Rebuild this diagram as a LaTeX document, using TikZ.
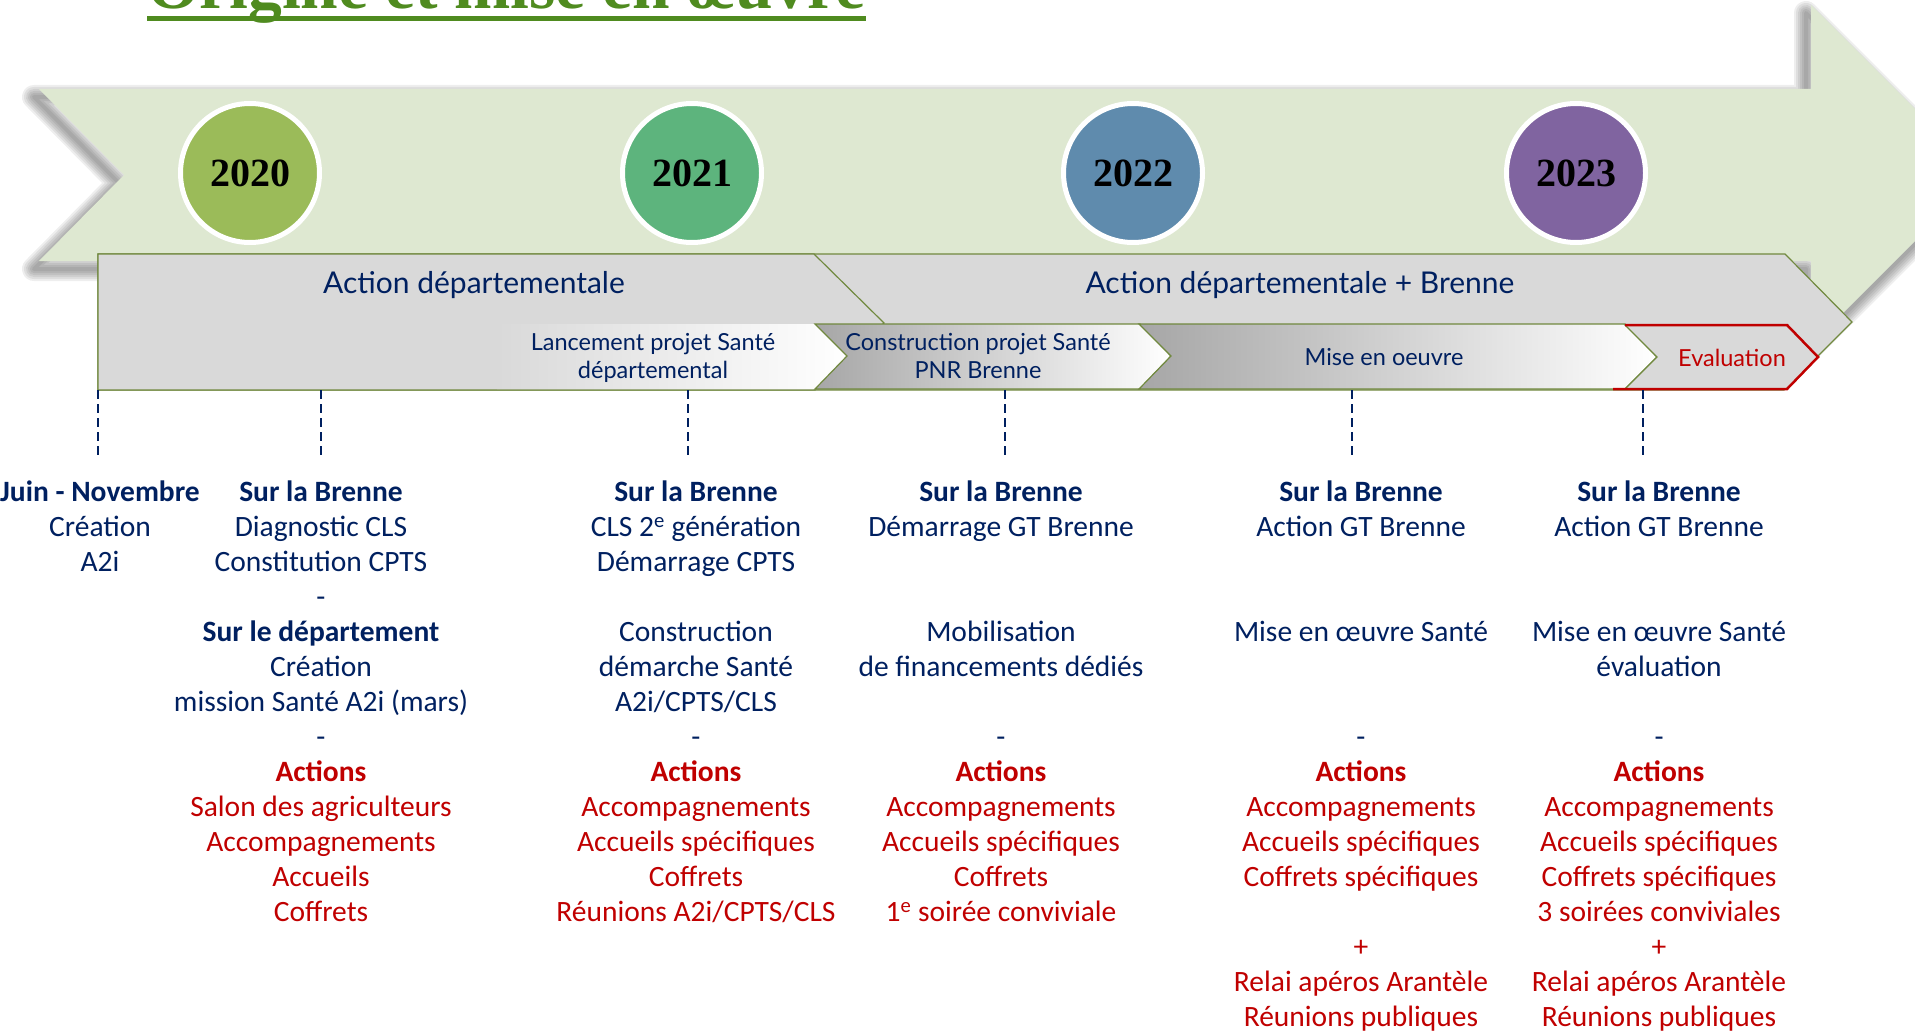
\documentclass[tikz,border=0pt]{standalone}
\usepackage{fontspec}
\setmainfont{Carlito}
\newfontfamily\lato{Lato}
\newfontfamily\timesb{Liberation Serif}
\usetikzlibrary{positioning}
\definecolor{navy}{HTML}{002060}
\definecolor{redtxt}{HTML}{C00000}
\definecolor{bandgreen}{HTML}{DEE8D1}
\definecolor{bandgray}{HTML}{D9D9D9}
\definecolor{midgray}{HTML}{A6A6A6}
\definecolor{olive}{HTML}{71893F}
\definecolor{titlegreen}{HTML}{4F8B1F}
\definecolor{y2020}{HTML}{9BBB59}
\definecolor{y2021}{HTML}{5DB47D}
\definecolor{y2022}{HTML}{5F8BAD}
\definecolor{y2023}{HTML}{8064A0}
\newcommand\colhead[1]{\textbf{#1}}
\newcommand\redline[1]{\textcolor{redtxt}{#1}}
\def\arrowpath{(39,89) -- (1811,89) -- (1811,5) -- (1981,175) -- (1811,345) -- (1811,261) -- (39,261) -- (124,175) -- cycle}

\begin{document}
\begin{tikzpicture}[x=1pt, y=-1pt,
  year/.style={circle, draw=white, line width=5pt, minimum size=139pt, inner sep=0pt, font=\timesb\bfseries\fontsize{40}{40}\selectfont},
  band/.style={fill=bandgray, draw=olive, line width=1.2pt, line join=miter},
  stage/.style={draw=olive, line width=1.2pt, left color=midgray, right color=white},
  bandlabel/.style={anchor=base, inner sep=0pt, text=navy, font=\lato\fontsize{30}{36}\selectfont},
  stagelabel/.style={inner sep=0pt, text=navy, align=center, font=\lato\fontsize{23.5}{28}\selectfont},
  col/.style={anchor=north, inner sep=0pt, align=center, text=navy, font=\fontsize{29.5}{35}\selectfont},
  tick/.style={draw=navy, line width=2.4pt, dash pattern=on 9pt off 5pt}]
\useasboundingbox (0,0) rectangle (1915,1033);
\clip (0,0) rectangle (1915,1033);

% title, cut by the top of the page
\node[anchor=base west, inner sep=0pt, text=titlegreen, font=\timesb\bfseries\fontsize{67.5}{70}\selectfont] (title) at (147,9) {Origine et mise en œuvre};
\draw[titlegreen, line width=5pt] ([yshift=-9.5pt]title.base west) -- ([yshift=-9.5pt]title.base east);

% big arrow with soft shadow
\begin{scope}[shift={(-5,8)}]
  \foreach \w in {4,8,12,16,20,24}
    \draw[black, opacity=.065, line width=\w pt, line join=round] \arrowpath;
\end{scope}
\fill[bandgreen] \arrowpath;

\node[year, fill=y2020] (y2020) at (250,173) {2020};
\node[year, fill=y2021] (y2021) at (692,173) {2021};
\node[year, fill=y2022] (y2022) at (1133,173) {2022};
\node[year, fill=y2023] (y2023) at (1576,173) {2023};

% grey band
\path[band] (98,254) -- (1785,254) -- (1852,322) -- (1784,390) -- (98,390) -- cycle;
\path[band] (98,254) -- (814,254) -- (884,323) -- (815,390) -- (98,390) -- cycle;
\path[left color=bandgray, right color=white] (497,324) -- (817,324) -- (847,356) -- (817,389) -- (497,389) -- cycle;
\path[stage] (815,324) -- (1140,324) -- (1171,356) -- (1140,389) -- (815,389) -- (847,356) -- cycle;
\path[stage] (1139,324) -- (1625,324) -- (1657,357) -- (1625,389) -- (1139,389) -- (1171,356) -- cycle;
\path[band] (1625,325) -- (1787,325) -- (1818,357) -- (1787,389) -- (1625,389) -- (1657,357) -- cycle;
\draw[redtxt, line width=2.5pt] (1625,325) -- (1787,325) -- (1818,357) -- (1787,389) -- (1613,389);

\node[bandlabel] (dep) at (474,293) {Action départementale};
\node[bandlabel] (depbrenne) at (1300,293) {Action départementale + Brenne};
\node[stagelabel, anchor=north] (lancement) at (653,330.4) {\strut Lancement projet Santé\\ départemental};
\node[stagelabel, anchor=north] (construction) at (978,330.4) {\strut Construction projet Santé\\ PNR Brenne};
\node[stagelabel, anchor=base] (miseoeuvre) at (1384,365) {Mise en oeuvre};
\node[stagelabel, anchor=base, text=redtxt] (evaluation) at (1732,366) {Evaluation};

% dashed ticks
\foreach \x [count=\i] in {98,321,688,1005,1352,1643}
  \coordinate (tick\i) at (\x,390);
\foreach \i in {1,...,6}
  \draw[tick] (tick\i) -- ++(0,67);

% columns
\node[col] (juin) at (100,476.5) {\strut\colhead{Juin - Novembre}\\ Création\\ A2i};
\node[col] (col2020) at (321,476.5) {\strut\colhead{Sur la Brenne}\\ Diagnostic CLS\\ Constitution CPTS\\ -\\
  \colhead{Sur le département}\\ Création\\ mission Santé A2i (mars)\\ -\\
  \redline{\textbf{Actions}}\\ \redline{Salon des agriculteurs}\\ \redline{Accompagnements}\\ \redline{Accueils}\\ \redline{Coffrets}};
\node[col] (col2021) at (696,476.5) {\strut\colhead{Sur la Brenne}\\ CLS 2\textsuperscript{e} génération\\ Démarrage CPTS\\ \mbox{}\\
  Construction\\ démarche Santé\\ A2i/CPTS/CLS\\ -\\
  \redline{\textbf{Actions}}\\ \redline{Accompagnements}\\ \redline{Accueils spécifiques}\\ \redline{Coffrets}\\ \redline{Réunions A2i/CPTS/CLS}};
\node[col] (col2022) at (1001,476.5) {\strut\colhead{Sur la Brenne}\\ Démarrage GT Brenne\\ \mbox{}\\ \mbox{}\\
  Mobilisation\\ de financements dédiés\\ \mbox{}\\ -\\
  \redline{\textbf{Actions}}\\ \redline{Accompagnements}\\ \redline{Accueils spécifiques}\\ \redline{Coffrets}\\ \redline{1\textsuperscript{e} soirée conviviale}};
\node[col] (col2023a) at (1361,476.5) {\strut\colhead{Sur la Brenne}\\ Action GT Brenne\\ \mbox{}\\ \mbox{}\\
  Mise en œuvre Santé\\ \mbox{}\\ \mbox{}\\ -\\
  \redline{\textbf{Actions}}\\ \redline{Accompagnements}\\ \redline{Accueils spécifiques}\\ \redline{Coffrets spécifiques}\\ \mbox{}\\
  \redline{+}\\ \redline{Relai apéros Arantèle}\\ \redline{Réunions publiques}};
\node[col] (col2023b) at (1659,476.5) {\strut\colhead{Sur la Brenne}\\ Action GT Brenne\\ \mbox{}\\ \mbox{}\\
  Mise en œuvre Santé\\ évaluation\\ \mbox{}\\ -\\
  \redline{\textbf{Actions}}\\ \redline{Accompagnements}\\ \redline{Accueils spécifiques}\\ \redline{Coffrets spécifiques}\\ \redline{3 soirées conviviales}\\
  \redline{+}\\ \redline{Relai apéros Arantèle}\\ \redline{Réunions publiques}};
\end{tikzpicture}
\end{document}
